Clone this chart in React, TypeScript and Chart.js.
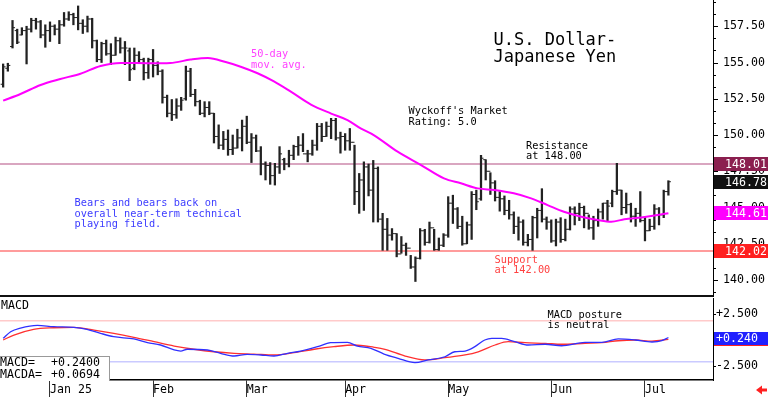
import React, { useEffect, useRef } from "react";
import { Chart, registerables } from "chart.js";

Chart.register(...registerables);

// ---------- DATA ----------
// Daily bars, index 0 = mid-December 2024, last = early July 2025
const highs = [
  154.9, 154.95, 157.9, 157.3, 157.4, 157.5, 158.05, 158.05, 157.9, 157.6,
  157.8, 157.6, 157.9, 158.45, 158.5, 158.4, 158.9, 157.95, 158.2, 158.05,
  156.55, 156.4, 156.55, 156.3, 156.75, 156.7, 156.45, 156.0, 156.0, 155.75,
  155.3, 155.3, 155.9, 155.05, 154.5, 152.75, 152.45, 152.5, 152.6, 154.75,
  154.6, 153.15, 152.4, 152.3, 152.3, 151.5, 150.7, 150.25, 150.35, 150.0,
  150.4, 151.03, 151.3, 150.1, 150.0, 149.2, 148.15, 148.1, 148.05, 149.2,
  148.4, 148.95, 149.3, 149.9, 150.1, 148.95, 149.65, 150.8, 150.8, 150.9,
  151.15, 151.15, 150.2, 150.1, 150.45, 149.3, 147.35, 148.15, 148.0, 148.25,
  147.8, 144.6, 144.25, 143.55, 143.2, 143.0, 142.55, 141.7, 141.6, 143.55,
  143.5, 144.0, 143.5, 142.9, 143.2, 145.75, 145.85, 145.0, 144.4, 144.0,
  146.1, 146.2, 148.6, 148.3, 147.4, 146.85, 146.1, 145.8, 145.5, 144.7,
  144.35, 144.15, 143.15, 144.4, 144.95, 146.3, 144.35, 144.15, 144.2, 144.3,
  144.2, 145.05, 145.05, 145.3, 145.1, 144.5, 144.4, 144.9, 145.3, 145.5,
  146.2, 148.05, 146.2, 146.0, 145.3, 144.95, 146.1, 144.35, 144.2, 145.2,
  145.0, 146.2, 146.85,
];
const lows = [
  153.3, 154.4, 156.0, 156.3, 156.9, 154.9, 157.1, 157.3, 156.7, 156.05,
  156.45, 156.9, 156.3, 157.5, 157.9, 157.6, 157.25, 157.0, 157.1, 156.0,
  155.05, 155.0, 155.5, 154.85, 155.5, 155.65, 154.85, 153.75, 154.5, 154.95,
  153.8, 153.9, 154.0, 154.15, 152.2, 151.25, 151.0, 151.15, 151.7, 152.4,
  152.65, 152.0, 151.4, 151.25, 151.4, 149.45, 149.05, 149.0, 148.6, 148.65,
  149.1, 148.9, 149.4, 148.1, 148.85, 147.25, 146.9, 146.6, 146.55, 147.35,
  147.6, 147.8, 148.3, 148.6, 148.85, 148.15, 148.6, 148.95, 149.55, 149.9,
  149.75, 149.65, 148.75, 148.95, 148.95, 145.2, 144.6, 144.8, 145.8, 144.0,
  144.0, 142.05, 142.05, 142.75, 141.6, 141.85, 141.7, 140.8, 139.9, 141.45,
  142.4, 142.55, 142.05, 142.05, 142.3, 142.95, 143.9, 143.55, 142.4, 142.5,
  142.8, 144.85, 145.5, 146.9, 145.9, 145.45, 144.75, 144.5, 144.2, 143.2,
  142.75, 142.4, 142.35, 142.05, 142.9, 144.0, 143.5, 142.6, 142.35, 142.6,
  142.7, 143.45, 143.8, 144.1, 143.6, 143.5, 142.8, 143.7, 144.2, 144.1,
  145.05, 145.9, 144.5, 144.6, 144.0, 143.7, 144.0, 142.7, 143.4, 143.5,
  143.8, 144.3, 145.85,
];
const opens = [
  153.5, 154.6, 156.1, 157.2, 156.9, 157.2, 157.3, 157.9, 157.8, 156.9,
  157.2, 157.5, 157.3, 157.6, 158.0, 158.3, 158.1, 157.7, 157.5, 158.0,
  156.5, 155.2, 156.3, 155.6, 155.5, 156.5, 156.0, 155.8, 154.6, 155.5,
  155.2, 154.3, 155.2, 154.8, 154.4, 152.6, 151.5, 151.4, 152.0, 152.5,
  154.4, 152.8, 152.3, 151.5, 151.9, 151.5, 149.9, 149.3, 149.7, 149.0,
  149.1, 149.8, 150.6, 149.5, 149.8, 148.9, 148.0, 147.9, 147.2, 147.8,
  148.3, 148.0, 148.6, 149.2, 149.3, 148.7, 148.7, 149.3, 150.6, 149.9,
  150.6, 151.0, 149.8, 149.9, 149.6, 149.5, 146.1, 146.9, 147.8, 146.2,
  147.7, 144.2, 143.5, 143.1, 143.2, 141.8, 142.4, 142.2, 140.9, 141.5,
  143.4, 142.6, 143.6, 142.1, 142.4, 143.1, 145.3, 144.9, 143.7, 142.5,
  143.8, 145.9, 145.6, 148.3, 147.5, 146.7, 145.7, 145.6, 144.8, 144.5,
  143.7, 144.0, 142.6, 142.8, 144.3, 144.8, 144.2, 144.0, 142.7, 144.0,
  142.8, 143.5, 144.9, 144.6, 145.0, 144.6, 143.6, 144.1, 144.7, 145.3,
  145.3, 146.1, 146.2, 145.0, 145.2, 144.4, 144.6, 144.1, 143.4, 143.7,
  144.9, 144.5, 146.1,
];
const closes = [
  154.7, 154.8, 157.4, 156.4, 157.2, 157.3, 157.9, 157.8, 156.9, 157.2,
  157.5, 157.3, 157.6, 158.0, 158.3, 158.1, 157.7, 157.5, 158.0, 156.5,
  155.2, 156.3, 155.6, 155.5, 156.5, 156.0, 156.0, 154.5, 155.5, 155.2,
  154.3, 155.2, 154.8, 154.4, 152.6, 151.5, 151.4, 152.0, 152.4, 154.4,
  152.8, 152.3, 151.5, 151.9, 151.5, 149.9, 149.3, 149.7, 149.0, 149.1,
  149.8, 150.6, 149.5, 149.8, 148.9, 148.0, 147.9, 147.2, 147.8, 148.7,
  148.0, 148.6, 149.2, 149.3, 148.7, 148.7, 149.3, 150.6, 149.9, 150.6,
  151.0, 149.8, 149.9, 149.6, 149.5, 146.1, 146.9, 147.8, 146.2, 147.7,
  144.2, 143.5, 143.1, 143.2, 141.8, 142.4, 142.2, 140.9, 141.5, 143.4,
  142.6, 143.6, 142.1, 142.4, 143.1, 145.3, 144.9, 143.7, 142.5, 143.8,
  145.9, 145.4, 148.4, 147.5, 146.7, 145.7, 145.6, 144.8, 144.5, 143.7,
  144.0, 142.6, 142.8, 144.3, 144.8, 144.2, 144.0, 142.7, 144.0, 142.8,
  143.5, 144.9, 144.6, 145.0, 144.6, 143.6, 144.1, 144.7, 145.3, 145.1,
  146.1, 146.2, 145.0, 145.2, 144.4, 144.6, 144.1, 143.4, 143.7, 144.9,
  144.5, 146.1, 146.78,
];

// 50-day moving average (bar index, value)
const maIndex = [0, 3.7, 8.0, 12.2, 16.5, 20.8, 25.1, 31.5, 35.7, 40.0, 43.7, 47.5, 50.7, 54.3, 57.8, 61.4, 65.7, 70.0, 73.5, 76.3, 79.1, 84.2, 89.2, 94.1, 97.7, 101.3, 104.8, 109.0, 112.7, 116.2, 119.7, 123.4, 126.9, 129.8, 132.6, 136.2, 139.7, 142];
const maValues = [152.37, 152.83, 153.45, 153.86, 154.23, 154.76, 154.97, 154.95, 154.97, 155.2, 155.31, 155.03, 154.71, 154.26, 153.7, 152.99, 152.1, 151.48, 151.03, 150.46, 150.0, 148.85, 147.93, 147.01, 146.67, 146.32, 146.21, 145.98, 145.63, 145.17, 144.71, 144.37, 144.14, 144.02, 144.19, 144.32, 144.48, 144.61];

// MACD (blue) and MACDA / signal (red)
const macdIndex = [0, 1.6, 3.7, 7.3, 10.8, 15.1, 17.9, 20.8, 23.6, 27.9, 30.8, 33.6, 36.5, 37.9, 39.3, 43.6, 46.4, 49.3, 52.1, 55.0, 57.8, 60.7, 63.5, 67.1, 69.9, 73.5, 75.6, 78.5, 81.3, 84.3, 87.9, 90.7, 94.3, 96.4, 98.6, 100.7, 102.8, 104.3, 106.4, 109.2, 112.1, 115.7, 119.2, 124.2, 127.8, 131.3, 134.9, 138.5, 140.6, 142];
const macdValues = [0.16, 0.8, 1.15, 1.41, 1.28, 1.22, 1.03, 0.64, 0.32, 0.1, -0.26, -0.48, -0.96, -1.06, -0.89, -0.96, -1.28, -1.54, -1.38, -1.44, -1.54, -1.28, -1.06, -0.64, -0.26, -0.22, -0.58, -0.8, -1.35, -1.76, -2.18, -1.92, -1.61, -1.13, -1.06, -0.64, 0, 0.16, 0.16, -0.16, -0.48, -0.41, -0.55, -0.22, -0.22, 0.1, 0, -0.19, -0.07, 0.24];
const signalIndex = [0, 2.3, 6.5, 10.8, 15.1, 19.4, 23.6, 27.9, 32.2, 36.5, 40.7, 45.0, 49.3, 53.5, 57.8, 62.1, 66.4, 70.6, 74.9, 79.2, 81.5, 85.8, 90.0, 94.3, 98.6, 101.4, 105.0, 107.8, 111.4, 115.7, 119.2, 124.2, 127.8, 131.3, 134.9, 138.5, 142];
const signalValues = [0, 0.48, 1.03, 1.18, 1.22, 0.96, 0.64, 0.26, -0.16, -0.58, -0.89, -1.13, -1.28, -1.35, -1.44, -1.22, -0.89, -0.64, -0.48, -0.7, -0.89, -1.54, -1.92, -1.7, -1.44, -1.13, -0.48, -0.16, -0.26, -0.32, -0.41, -0.32, -0.26, -0.07, 0, -0.1, 0.07];

const monthTickIndex = [10, 32, 52, 73, 95, 117, 137];
const monthLabels = ["Jan 25", "Feb", "Mar", "Apr", "May", "Jun", "Jul"];
const priceTicks = [140, 142.5, 145, 147.5, 150, 152.5, 155, 157.5];
const macdTicks = [-2.5, 2.5];
const resistanceLevel = 148;
const supportLevel = 142;
const macdUpperLevel = 1.85;
const macdLowerLevel = -2.1;
const priceBoxValues = [148.01, 146.78, 144.61, 142.02];
const macdBoxValues = [0.0694, 0.24];
const macdReadout = ["+0.2400", "+0.0694"];

// ---------- STYLE / LAYOUT ----------
const MONO = "'DejaVu Sans Mono', 'Liberation Mono', monospace";
const X_MIN = -0.672;
const X_MAX = 151.52;
const priceBoxColors = ["#8b1f4f", "#111111", "#ff00ff", "#ff2020"];
const macdBoxColors = ["#ff2020", "#2020ff"];

const noPad = (s: any) => {
  s.width = 55;
  s.paddingTop = 0;
  s.paddingBottom = 0;
};

const priceDecor = {
  id: "priceDecor",
  afterDraw(chart: any) {
    const { ctx, chartArea, scales } = chart;
    ctx.save();
    // major + minor ticks on the right axis
    ctx.strokeStyle = "#000";
    ctx.lineWidth = 1;
    const step = 2.5 / 3;
    for (let k = -2; k < 30; k++) {
      const v = 140 + k * step;
      const y = Math.round(scales.y.getPixelForValue(v)) + 0.5;
      if (y < chartArea.top || y > chartArea.bottom) continue;
      const len = k % 3 === 0 ? 5 : 3;
      ctx.beginPath();
      ctx.moveTo(chartArea.right, y);
      ctx.lineTo(chartArea.right + len, y);
      ctx.stroke();
    }
    ctx.fillStyle = "#111";
    ctx.fillRect(0, chartArea.bottom - 1, chartArea.right, 2);
    ctx.font = `11.6px ${MONO}`;
    ctx.textBaseline = "middle";
    ctx.textAlign = "left";
    priceBoxValues.forEach((v, k) => {
      const y = Math.round(scales.y.getPixelForValue(v));
      ctx.fillStyle = priceBoxColors[k];
      ctx.fillRect(chartArea.right + 1, y - 7, chart.width - chartArea.right - 1, 14);
      ctx.fillStyle = "#fff";
      ctx.fillText(v.toFixed(2), chartArea.right + 12, y + 0.5);
    });
    ctx.restore();
  },
};

const macdDecor = {
  id: "macdDecor",
  afterDraw(chart: any) {
    const { ctx, chartArea, scales } = chart;
    ctx.save();
    ctx.font = `11.6px ${MONO}`;
    ctx.textBaseline = "middle";
    ctx.textAlign = "left";
    macdBoxValues.forEach((v, k) => {
      const y = Math.round(scales.y.getPixelForValue(v));
      ctx.fillStyle = macdBoxColors[k];
      ctx.fillRect(chartArea.right + 1, y - 6, chart.width - chartArea.right - 1, 13);
      if (k === macdBoxValues.length - 1) {
        ctx.fillStyle = "#fff";
        ctx.fillText((v >= 0 ? "+" : "") + v.toFixed(3), chartArea.right + 3, y + 0.5);
      }
    });
    // small red arrow bottom-right
    const ax = 756, ay = chart.height - 7;
    ctx.fillStyle = "#ff2020";
    ctx.beginPath();
    ctx.moveTo(ax, ay);
    ctx.lineTo(ax + 6, ay - 4.5);
    ctx.lineTo(ax + 6, ay + 4.5);
    ctx.closePath();
    ctx.fill();
    ctx.fillRect(ax + 5, ay - 1.5, 6, 3);
    ctx.restore();
  },
};

function Note(props: { left: number; top: number; color?: string; size?: number; lh?: number; lines: string[] }) {
  const { left, top, color = "#000", size = 10.3, lh = 10.5, lines } = props;
  return (
    <div
      style={{
        position: "absolute",
        left,
        top,
        color,
        fontFamily: MONO,
        fontSize: size,
        lineHeight: lh + "px",
        whiteSpace: "pre",
      }}
    >
      {lines.join("\n")}
    </div>
  );
}

export default function App() {
  const priceRef = useRef<HTMLCanvasElement>(null);
  const macdRef = useRef<HTMLCanvasElement>(null);

  useEffect(() => {
    const bars = highs.map((h, i) => ({ x: i, y: [lows[i], h] }));
    const openPts = opens.map((o, i) => ({ x: i, y: o }));
    const closePts = closes.map((c, i) => ({ x: i, y: c }));
    const maPts = maIndex.map((x, k) => ({ x, y: maValues[k] }));

    const price = new Chart(priceRef.current!, {
      type: "bar",
      data: {
        datasets: [
          {
            type: "line",
            data: [{ x: X_MIN, y: resistanceLevel }, { x: X_MAX, y: resistanceLevel }],
            borderColor: "#d9a6c0",
            borderWidth: 2,
            pointRadius: 0,
            pointHoverRadius: 0,
            order: 5,
          } as any,
          {
            type: "line",
            data: [{ x: X_MIN, y: supportLevel }, { x: X_MAX, y: supportLevel }],
            borderColor: "#ff9c9c",
            borderWidth: 2,
            pointRadius: 0,
            pointHoverRadius: 0,
            order: 5,
          } as any,
          {
            type: "bar",
            data: bars,
            backgroundColor: "#222",
            borderWidth: 0,
            barThickness: 1.6,
            order: 3,
          } as any,
          {
            type: "scatter",
            data: openPts,
            pointStyle: "dash",
            pointRotation: 180,
            pointRadius: 2.5,
            pointHoverRadius: 2.5,
            pointBorderWidth: 1,
            borderColor: "#222",
            order: 2,
          } as any,
          {
            type: "scatter",
            data: closePts,
            pointStyle: "dash",
            pointRotation: 0,
            pointRadius: 2.5,
            pointHoverRadius: 2.5,
            pointBorderWidth: 1,
            borderColor: "#222",
            order: 2,
          } as any,
          {
            type: "line",
            data: maPts,
            borderColor: "#ff00ff",
            borderWidth: 2,
            pointRadius: 0,
            pointHoverRadius: 0,
            cubicInterpolationMode: "monotone",
            order: 1,
          } as any,
        ],
      },
      options: {
        responsive: false,
        maintainAspectRatio: false,
        devicePixelRatio: 1,
        animation: false,
        events: [],
        layout: { autoPadding: false, padding: { left: 0, right: 0, top: 0, bottom: 1 } },
        plugins: { legend: { display: false }, tooltip: { enabled: false } },
        scales: {
          x: {
            type: "linear",
            min: X_MIN,
            max: X_MAX,
            offset: false,
            display: false,
            grid: { offset: false },
          },
          y: {
            type: "linear",
            position: "right",
            min: 138.9,
            max: 159.31,
            afterBuildTicks: (s: any) => {
              s.ticks = priceTicks.map((v) => ({ value: v }));
            },
            afterFit: noPad,
            ticks: {
              callback: (v: any) => Number(v).toFixed(2),
              font: { family: MONO, size: 11.6 },
              color: "#000",
              padding: 0,
            },
            grid: { drawOnChartArea: false, drawTicks: true, tickLength: 10, tickColor: "rgba(0,0,0,0)", color: "rgba(0,0,0,0)" },
            border: { display: true, color: "#000", width: 1 },
          },
        },
      } as any,
      plugins: [priceDecor],
    });

    const macdPts = macdIndex.map((x, k) => ({ x, y: macdValues[k] }));
    const sigPts = signalIndex.map((x, k) => ({ x, y: signalValues[k] }));

    const macd = new Chart(macdRef.current!, {
      type: "line",
      data: {
        datasets: [
          {
            data: [{ x: X_MIN, y: macdUpperLevel }, { x: X_MAX, y: macdUpperLevel }],
            borderColor: "#ffcaca",
            borderWidth: 1.5,
            pointRadius: 0,
            pointHoverRadius: 0,
            order: 4,
          },
          {
            data: [{ x: X_MIN, y: macdLowerLevel }, { x: X_MAX, y: macdLowerLevel }],
            borderColor: "#cacaff",
            borderWidth: 1.5,
            pointRadius: 0,
            pointHoverRadius: 0,
            order: 4,
          },
          {
            data: sigPts,
            borderColor: "#ff3030",
            borderWidth: 1.3,
            pointRadius: 0,
            pointHoverRadius: 0,
            cubicInterpolationMode: "monotone",
            order: 2,
          },
          {
            data: macdPts,
            borderColor: "#3030ff",
            borderWidth: 1.3,
            pointRadius: 0,
            pointHoverRadius: 0,
            cubicInterpolationMode: "monotone",
            order: 1,
          },
        ] as any,
      },
      options: {
        responsive: false,
        maintainAspectRatio: false,
        devicePixelRatio: 1,
        animation: false,
        events: [],
        layout: { autoPadding: false, padding: { left: 0, right: 0, top: 1, bottom: 0 } },
        plugins: { legend: { display: false }, tooltip: { enabled: false } },
        scales: {
          x: {
            type: "linear",
            min: X_MIN,
            max: X_MAX,
            offset: false,
            position: "bottom",
            afterBuildTicks: (s: any) => {
              s.ticks = monthTickIndex.map((v) => ({ value: v }));
            },
            afterFit: (s: any) => {
              s.height = 17;
              s.paddingLeft = 0;
              s.paddingRight = 0;
            },
            ticks: {
              autoSkip: false,
              maxRotation: 0,
              minRotation: 0,
              align: "start",
              padding: -14,
              callback: (_v: any, i: number) => monthLabels[i],
              font: { family: MONO, size: 11.6 },
              color: "#000",
            },
            grid: { drawOnChartArea: false, drawTicks: true, tickLength: 17, color: "#333", offset: false },
            border: { display: true, color: "#000", width: 1.5 },
          },
          y: {
            type: "linear",
            position: "right",
            min: -3.846,
            max: 4.04,
            afterBuildTicks: (s: any) => {
              s.ticks = macdTicks.map((v) => ({ value: v }));
            },
            afterFit: noPad,
            ticks: {
              callback: (v: any) => (Number(v) > 0 ? "+" : "") + Number(v).toFixed(3),
              font: { family: MONO, size: 11.6 },
              color: "#000",
              padding: 0,
            },
            grid: { drawOnChartArea: false, drawTicks: true, tickLength: 3, color: "#000" },
            border: { display: true, color: "#000", width: 1 },
          },
        },
      } as any,
      plugins: [macdDecor],
    });

    return () => {
      price.destroy();
      macd.destroy();
    };
  }, []);

  return (
    <div style={{ position: "absolute", left: 0, top: 0, width: 768, height: 397, background: "#fff", overflow: "hidden" }}>
      <canvas ref={priceRef} width={768} height={297} style={{ position: "absolute", left: 0, top: 0, width: 768, height: 297 }} />
      <canvas ref={macdRef} width={768} height={100} style={{ position: "absolute", left: 0, top: 297, width: 768, height: 100 }} />

      <Note left={493.5} top={31.3} size={17} lh={16.7} lines={["U.S. Dollar-", "Japanese Yen"]} />
      <Note left={251} top={48} color="#ff40ff" lh={10.7} lines={["50-day", "mov. avg."]} />
      <Note left={408.5} top={105.3} lh={10.6} lines={["Wyckoff's Market", "Rating: 5.0"]} />
      <Note left={526} top={140.3} lh={10} lines={["Resistance", "at 148.00"]} />
      <Note left={74.5} top={197} color="#3c3cff" lh={10.5} lines={["Bears and bears back on", "overall near-term technical", "playing field."]} />
      <Note left={494.5} top={253.7} color="#ff4040" lh={10} lines={["Support", "at 142.00"]} />
      <Note left={1} top={299.4} size={11.6} lh={12} lines={["MACD"]} />
      <Note left={547.5} top={309.4} lh={10} lines={["MACD posture", "is neutral"]} />

      <div
        style={{
          position: "absolute",
          left: 0,
          top: 355.7,
          width: 109,
          height: 24,
          background: "#fff",
          borderTop: "1px solid #999",
          borderRight: "1px solid #999",
          fontFamily: MONO,
          fontSize: 11.6,
          lineHeight: "11.7px",
          color: "#000",
        }}
      >
        <div style={{ position: "absolute", left: 0, top: 0.2, whiteSpace: "pre" }}>MACD=</div>
        <div style={{ position: "absolute", left: 51, top: 0.2, whiteSpace: "pre" }}>{macdReadout[0]}</div>
        <div style={{ position: "absolute", left: 0, top: 11.9, whiteSpace: "pre" }}>MACDA=</div>
        <div style={{ position: "absolute", left: 51, top: 11.9, whiteSpace: "pre" }}>{macdReadout[1]}</div>
      </div>
    </div>
  );
}
